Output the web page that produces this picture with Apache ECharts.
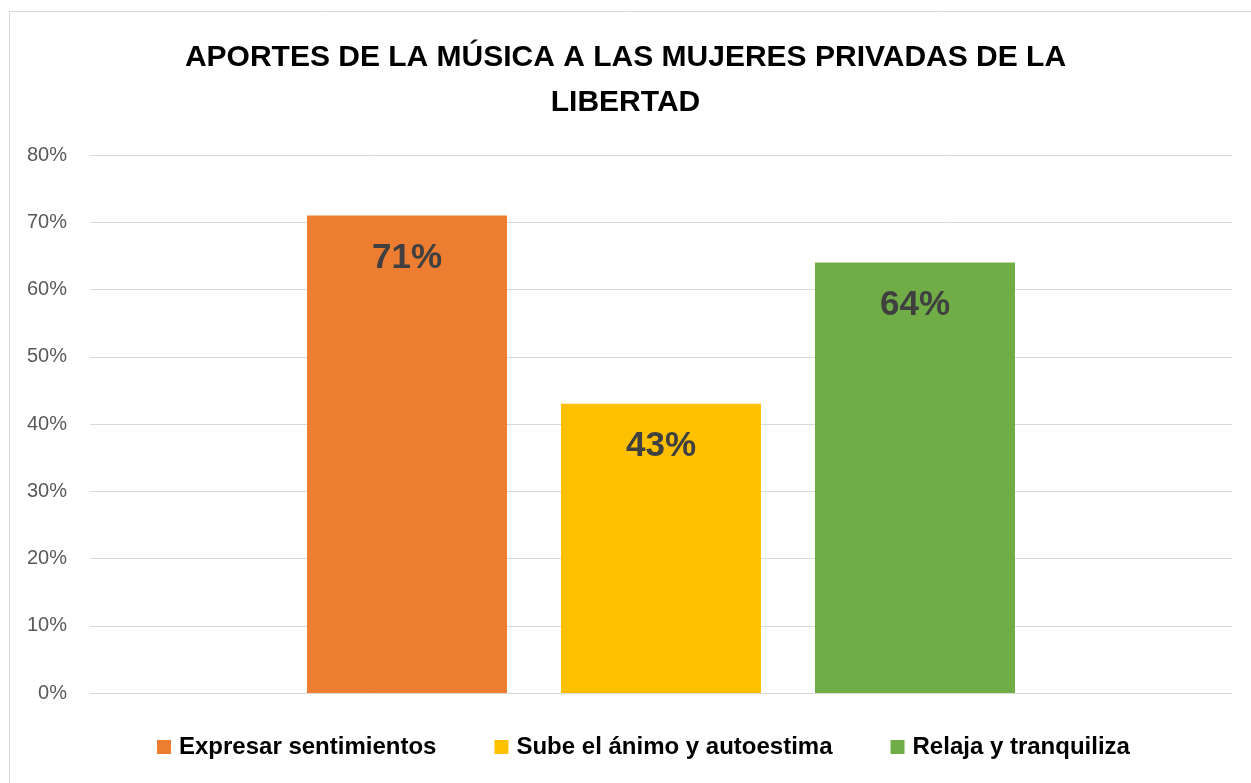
<!DOCTYPE html>
<html><head><meta charset="utf-8">
<script src="https://cdn.jsdelivr.net/npm/echarts@6/dist/echarts.min.js"></script>
<style>html,body{margin:0;padding:0;background:#fff;}#c{width:1251px;height:783px;}</style>
</head><body><div id="c"></div>
<script>
const categories = ['Aportes'];
const seriesNames = ['Expresar sentimientos', 'Sube el ánimo y autoestima', 'Relaja y tranquiliza'];
const seriesValues = [71, 43, 64];
const seriesColors = ['#ED7D31', '#FFC000', '#70AD47'];
const yTicks = [0, 10, 20, 30, 40, 50, 60, 70, 80];
const titleText = 'APORTES DE LA MÚSICA A LAS MUJERES PRIVADAS DE LA\nLIBERTAD';

const chart = echarts.init(document.getElementById('c'));
const font = 'Liberation Sans, Arial, sans-serif';
chart.setOption({
  animation: false,
  backgroundColor: '#fff',
  graphic: [{type:'rect', shape:{x:9.5,y:11.5,width:1260,height:800}, style:{fill:'none', stroke:'#d9d9d9', lineWidth:1}, silent:true}],
  title: {text: titleText, left: 'center', top: 30, textStyle:{fontFamily:font, fontWeight:'bold', fontSize:30, color:'#000', lineHeight:45}},
  legend: {bottom: 19, left: 152, itemWidth: 14, itemHeight: 14, itemGap: 58, icon: 'rect',
    textStyle: {fontFamily: font, fontWeight: 'bold', fontSize: 24, color: '#000', padding: [0,0,0,3]}, data: seriesNames},
  grid: {left: 90, right: 19, top: 155, bottom: 90, containLabel: false},
  xAxis: {type: 'category', data: categories, axisLabel: {show: false}, axisTick: {show: false}, axisLine: {show: false}},
  yAxis: {type: 'value', min: yTicks[0], max: yTicks[yTicks.length-1], interval: 10,
    axisLabel: {formatter: v => v + '%', fontFamily: font, fontSize: 20, color: '#595959', margin: 23, padding: [10,0,0,0]},
    axisLine: {show: false}, axisTick: {show: false},
    splitLine: {lineStyle: {color: '#d9d9d9', width: 1}}},
  series: seriesNames.map((n, i) => ({
    name: n, type: 'bar', data: [seriesValues[i]], barWidth: 200, barGap: '27%',
    itemStyle: {color: seriesColors[i]},
    label: {show: true, position: 'insideTop', distance: 25, formatter: p => p.value + '%',
      fontFamily: font, fontWeight: 'bold', fontSize: 35, color: '#404040'}
  }))
});
</script></body></html>
